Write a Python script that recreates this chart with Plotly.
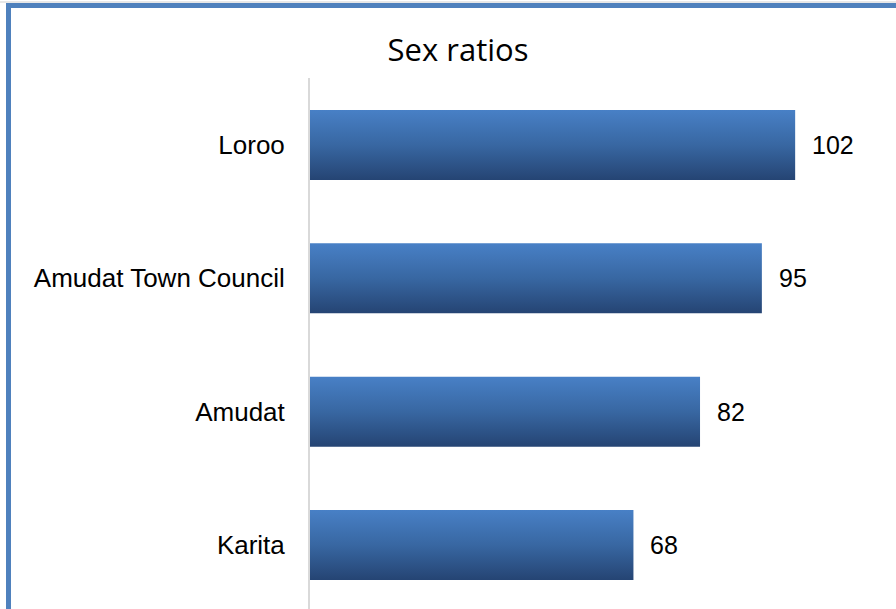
import plotly.graph_objects as go

categories = ["Loroo", "Amudat Town Council", "Amudat", "Karita"]
values = [102, 95, 82, 68]
title_text = "Sex ratios"

W, H = 896, 609
L, R, T, B = 310, 0, 78, 0
pw, ph = W - L - R, H - T - B

def px_x(p):
    return (p - L) / pw

def px_y(p):
    return (H - B - p) / ph

half = 0.2625
n = len(categories)
fig = go.Figure()
for i, (c, v) in enumerate(zip(categories, values)):
    yc = n - 1 - i
    fig.add_trace(go.Scatter(
        x=[0, v, v, 0, 0],
        y=[yc - half, yc - half, yc + half, yc + half, yc - half],
        mode="lines", fill="toself",
        line=dict(width=0, color="rgba(0,0,0,0)"),
        fillgradient=dict(type="vertical",
                          colorscale=[[0, "#254473"], [0.5, "#3867A2"], [1, "#4880C6"]]),
        hoverinfo="skip", showlegend=False,
    ))
    fig.add_annotation(x=v, y=yc, text=str(v), showarrow=False,
                       xanchor="left", yanchor="middle", xshift=15,
                       font=dict(family="Liberation Sans, Arial", size=25, color="#000000"))

fig.update_layout(
    width=W, height=H,
    margin=dict(l=L, r=R, t=T, b=B, pad=0),
    paper_bgcolor="white", plot_bgcolor="white",
    title=dict(text=title_text, x=458 / W, xanchor="center", xref="container",
               y=1 - 50 / H, yanchor="middle", yref="container",
               font=dict(family="Open Sans", size=31, color="#000000")),
    xaxis=dict(visible=False, range=[0, 123.2], fixedrange=True),
    yaxis=dict(range=[-0.48, 3.5025], fixedrange=True,
               tickvals=[n - 1 - i for i in range(n)], ticktext=categories,
               showgrid=False, zeroline=False, showline=True,
               linecolor="#D9D9D9", linewidth=2, ticks="",
               ticklabelstandoff=18,
               tickfont=dict(family="Liberation Sans, Arial", size=26, color="#000000")),
    shapes=[
        dict(type="line", xref="paper", yref="paper",
             x0=px_x(0), x1=px_x(W + 5), y0=px_y(2), y1=px_y(2),
             line=dict(color="#D0D0D0", width=1)),
        dict(type="line", xref="paper", yref="paper",
             x0=px_x(6), x1=px_x(W + 5), y0=px_y(5.5), y1=px_y(5.5),
             line=dict(color="#4F81BD", width=5)),
        dict(type="line", xref="paper", yref="paper",
             x0=px_x(8.5), x1=px_x(8.5), y0=px_y(3), y1=px_y(H + 5),
             line=dict(color="#4F81BD", width=5)),
    ],
)

fig.write_html("out.html", config={"displayModeBar": False},
               post_script="document.body.style.margin='0';")
